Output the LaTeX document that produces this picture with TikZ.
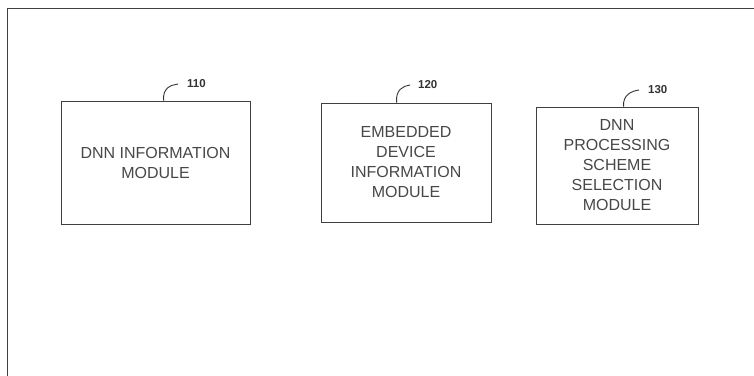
\documentclass[tikz,border=0pt]{standalone}
\usepackage{fontspec}
\setmainfont{Liberation Sans}
\begin{document}
\begin{tikzpicture}[x=1pt,y=-1pt,
  modbox/.style={draw=black!75, line width=0.9pt, align=center, inner sep=0pt,
    text=black!72, font=\fontsize{16}{20}\selectfont},
  reflabel/.style={anchor=west, inner sep=0pt, text=black!80, font=\bfseries\fontsize{11.5}{13}\selectfont},
  leader/.style={draw=black!80, line width=0.9pt}]
\useasboundingbox (0,0) rectangle (754,375);
\draw[black!75, line width=0.9pt] (7,380) -- (7,8) -- (760,8);

\node[modbox, minimum width=189pt, minimum height=123pt] (box1) at (155.5,162.5)
  {DNN INFORMATION\\MODULE};
\node[modbox, minimum width=170pt, minimum height=119pt] (box2) at (406,162.5)
  {EMBEDDED\\DEVICE\\INFORMATION\\MODULE};
\node[modbox, minimum width=162pt, minimum height=117pt] (box3) at (617,165.5)
  {DNN\\PROCESSING\\SCHEME\\SELECTION\\MODULE};

\node[reflabel] (lab1) at (187,84) {110};
\node[reflabel] (lab2) at (418,85) {120};
\node[reflabel] (lab3) at (648,90) {130};

\draw[leader] ([xshift=103pt]box1.north west) .. controls +(-1,-13) and +(-7,1) .. ([xshift=-9pt]lab1.west);
\draw[leader] ([xshift=76pt]box2.north west) .. controls +(-1,-13) and +(-7,1) .. ([xshift=-8pt]lab2.west);
\draw[leader] ([xshift=88pt]box3.north west) .. controls +(-1,-12) and +(-7,1) .. ([xshift=-9pt]lab3.west);
\end{tikzpicture}
\end{document}
